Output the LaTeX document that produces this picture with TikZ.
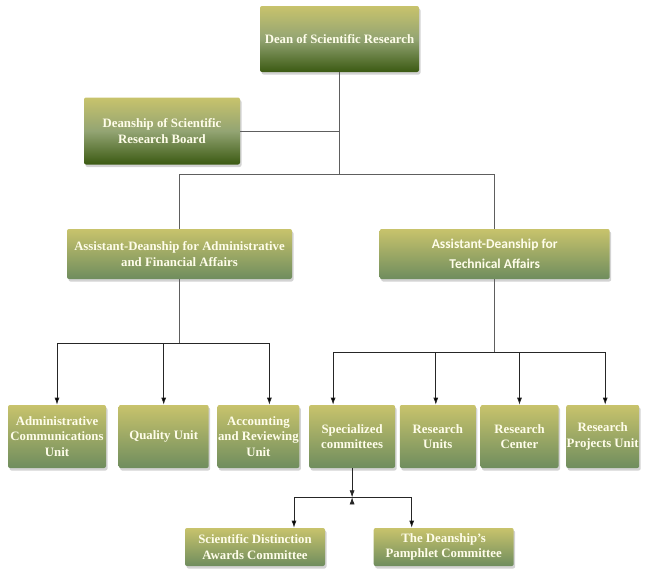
\documentclass[tikz,border=0pt]{standalone}
\usepackage{fontspec}
\setmainfont{Liberation Serif}
\newfontfamily\techfont{Carlito}
\usepackage{tikz}
\usetikzlibrary{%
  arrows.meta,%
  positioning,% wg. " of "
  shadows%
}
\definecolor{khaki}{HTML}{C8C36C}
\definecolor{sage}{HTML}{6F8D5E}
\definecolor{meadow}{HTML}{93A473}
\definecolor{darkleaf}{HTML}{3B5A12}
\definecolor{cream}{HTML}{FFFDEA}
\definecolor{wire}{HTML}{5E5E5E}

\begin{document}
\begin{tikzpicture}[x=1pt, y=1pt, >={Latex[length=7pt,width=5pt]}, line width=0.7pt,
  unit/.style={rounded corners=2pt, top color=khaki, bottom color=sage, text=cream, align=center, inner xsep=0pt, inner ysep=2pt,
    font=\bfseries\fontsize{12.8}{15.5}\selectfont,
    drop shadow={shadow xshift=1.5pt, shadow yshift=-2.5pt, opacity=0.35}},
  head/.style={unit, top color=khaki, bottom color=darkleaf, middle color=meadow},
  link/.style={draw=wire},
  feed/.style={draw=black!85, ->},
  elbow/.style={to path={-| (\tikztotarget)}}]
    \useasboundingbox (0,-570) rectangle (645,0);

    %dean and board
    \node[head, minimum width=159pt, minimum height=66pt] (dean) at (339.5,-39) {Dean of Scientific Research};
    \node[head, minimum width=156pt, minimum height=67pt] (board) at (162,-131) {Deanship of Scientific\\Research Board};

    %assistant deanships
    \node[unit, minimum width=225pt, minimum height=50pt] (admin) at (179.5,-254) {Assistant-Deanship for Administrative\\and Financial Affairs};
    \node[unit, minimum width=230pt, minimum height=50pt, font=\techfont\bfseries\fontsize{13.5}{20}\selectfont] (tech) [right=87pt of admin] {Assistant-Deanship for\\Technical Affairs};

    %units
    \node[unit, minimum width=98pt, minimum height=63pt] (acomm) at (57,-436.5) {Administrative\\Communications\\Unit};
    \node[unit, minimum width=90pt, minimum height=63pt] (quality) [right=12pt of acomm] {Quality Unit};
    \node[unit, minimum width=82pt, minimum height=63pt] (account) [right=8pt of quality] {Accounting\\and Reviewing\\Unit};
    \node[unit, minimum width=86pt, minimum height=63pt] (special) [right=9pt of account] {Specialized\\committees};
    \node[unit, minimum width=76pt, minimum height=63pt] (runits) [right=4pt of special] {Research\\Units};
    \node[unit, minimum width=78pt, minimum height=63pt] (rcenter) [right=4pt of runits] {Research\\Center};
    \node[unit, minimum width=73pt, minimum height=63pt] (rproj) [right=7pt of rcenter] {Research\\Projects Unit};

    %committees
    \node[unit, minimum width=140pt, minimum height=38pt] (award) at (255,-547) {Scientific Distinction\\Awards Committee};
    \node[unit, minimum width=140pt, minimum height=38pt] (pamph) [right=48pt of award] {The Deanship’s\\Pamphlet Committee};

    %upper lines
    \draw[link] (dean.south) -- ++(0,-102) coordinate (trunk);
    \draw[link] (board.east) -- (board.east -| dean.south);
    \draw[link] (admin.north) |- (trunk) -| (tech.north);
    \draw[link] (admin.south) -- ++(0,-64) coordinate (abus);
    \draw[link] (tech.south) -- ++(0,-73) coordinate (tbus);
    \draw[feed] (special.south) -- ++(0,-29) coordinate (sbus);

    \path[feed]
     (abus) edge[elbow] (acomm.north)
     (abus) edge[elbow] (quality.north)
     (abus) edge[elbow] ([xshift=11pt]account.north)
     (tbus) edge[elbow] ([xshift=-19pt]special.north)
     (tbus) edge[elbow] ([xshift=-2pt]runits.north)
     (tbus) edge[elbow] (rcenter.north)
     (tbus) edge[elbow] ([xshift=2.5pt]rproj.north)
     (sbus) edge[elbow] ([xshift=39pt]award.north)
     (sbus) edge[elbow] ([xshift=-32pt]pamph.north);
\end{tikzpicture}
\end{document}
